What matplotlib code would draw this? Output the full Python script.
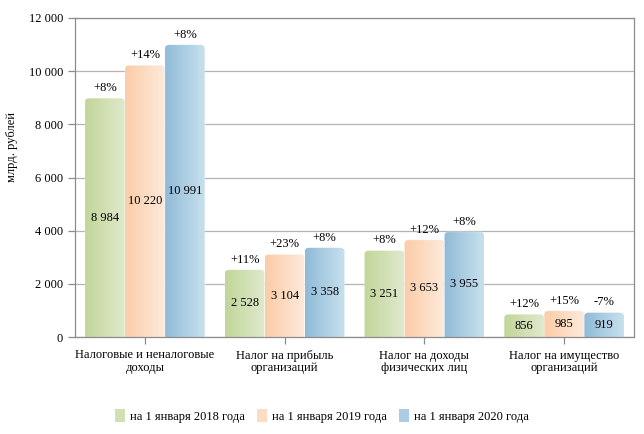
import numpy as np
import matplotlib.pyplot as plt
from matplotlib.patches import FancyBboxPatch, Patch
from matplotlib.colors import to_rgb

plt.rcParams['font.family'] = ['Liberation Serif', 'DejaVu Serif']

categories = ['Налоговые и неналоговые\nдоходы', 'Налог на прибыль\nорганизаций',
              'Налог на доходы\nфизических лиц', 'Налог на имущество\nорганизаций']
series = ['на 1 января 2018 года', 'на 1 января 2019 года', 'на 1 января 2020 года']
values_2018 = [8984, 2528, 3251, 856]
values_2019 = [10220, 3104, 3653, 985]
values_2020 = [10991, 3358, 3955, 919]
growth_2018 = ['+8%', '+11%', '+8%', '+12%']
growth_2019 = ['+14%', '+23%', '+12%', '+15%']
growth_2020 = ['+8%', '+8%', '+8%', '-7%']
yticks = [0, 2000, 4000, 6000, 8000, 10000, 12000]

# gradient colors (left, right) per series
grad = [('#c2d699', '#dfe9cd'), ('#fbcca8', '#fdeadb'), ('#90bbd8', '#c8e0ed')]
mid = ['#d0dfb4', '#fcdcc2', '#abcce2']

fig = plt.figure(figsize=(6.44, 4.34), dpi=100)
ax = fig.add_axes([75/644, 97/434, 559/644, 319/434])
ax.set_xlim(-0.5, 3.5)
ax.set_ylim(0, 12000)

w = 0.286
x = np.arange(len(categories))
all_vals = [values_2018, values_2019, values_2020]
all_growth = [growth_2018, growth_2019, growth_2020]

rx = 0.03
aspect = 150 / rx
for s, (vals, gr) in enumerate(zip(all_vals, all_growth)):
    c0, c1 = np.array(to_rgb(grad[s][0])), np.array(to_rgb(grad[s][1]))
    t = np.linspace(0, 1, 64)[:, None]
    img = (c0 * (1 - t) + c1 * t)[None, :, :]
    for i, v in enumerate(vals):
        xc = x[i] + (s - 1) * w
        x0 = xc - w / 2
        patch = FancyBboxPatch((x0, -300), w, v + 300,
                               boxstyle=f'round,pad=0,rounding_size={rx}',
                               mutation_aspect=aspect, facecolor='none',
                               edgecolor='#ffffff', linewidth=0.4, alpha=0.4, zorder=3)
        ax.add_patch(patch)
        im = ax.imshow(img, extent=[x0, x0 + w, 0, v], aspect='auto',
                       interpolation='bilinear', zorder=2)
        im.set_clip_path(patch)
        ax.text(xc, v / 2, f'{v:,}'.replace(',', ' '), ha='center', va='center',
                fontsize=9, zorder=4)
        ax.annotate(gr[i], (xc, v), xytext=(0, 3), textcoords='offset points',
                    ha='center', va='bottom', fontsize=9, zorder=4)

ax.set_xlim(-0.5, 3.5)
ax.set_ylim(0, 12000)
ax.set_yticks(yticks)
ax.set_yticklabels([f'{v:,}'.replace(',', ' ') for v in yticks], fontsize=9)
ax.set_xticks(x)
ax.set_xticklabels(categories, fontsize=9, linespacing=1.1)
ax.yaxis.grid(True, color='#b4b4b4', linewidth=0.9)
ax.set_axisbelow(True)
for sp in ax.spines.values():
    sp.set_color('#8c8c8c')
    sp.set_linewidth(0.9)
ax.tick_params(axis='both', colors='#8c8c8c', labelcolor='black', length=5, width=0.9)
ax.tick_params(axis='x', pad=4)

fig.text(12/644, 1 - 147/434, 'млрд. рублей', rotation=90, ha='center', va='center', fontsize=9)

handles = [Patch(facecolor=mid[i], edgecolor='none') for i in range(3)]
fig.legend(handles, series, loc='center', bbox_to_anchor=(0.5, 18/434), ncol=3,
           frameon=False, fontsize=9, handlelength=0.8, handleheight=1.2,
           handletextpad=0.4, columnspacing=1.0)

fig.savefig('out.png', dpi=100)
